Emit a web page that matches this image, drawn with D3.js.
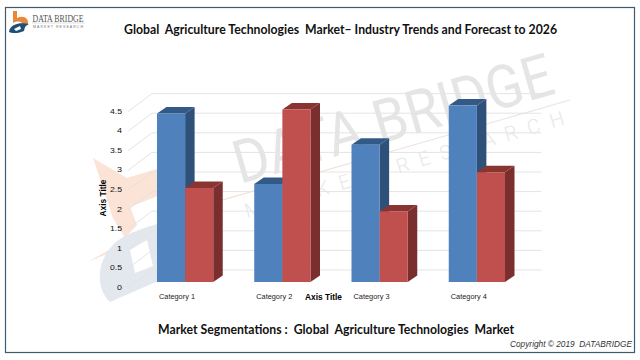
<!DOCTYPE html>
<html>
<head>
<meta charset="utf-8">
<script src="https://cdn.jsdelivr.net/npm/d3@7"></script>
<style>
  html, body { margin: 0; padding: 0; background: #fff; }
  svg { display: block; }
  text { font-family: "Liberation Sans", sans-serif; white-space: pre; }
</style>
</head>
<body>
<svg id="chart" width="640" height="360"></svg>
<script>
// values
const categories = ["Category 1", "Category 2", "Category 3", "Category 4"];
const series1 = [4.3, 2.5, 3.5, 4.5];
const series2 = [2.4, 4.4, 1.8, 2.8];
const yTicks = [0, 0.5, 1, 1.5, 2, 2.5, 3, 3.5, 4, 4.5];
const yTickLabels = ["0", "0.5", "1", "1.5", "2", "2.5", "3", "3.5", "4", "4.5"];

const svg = d3.select("#chart");

// frame
svg.append("rect").attr("x", 5.5).attr("y", 7.5).attr("width", 629).attr("height", 345)
  .attr("fill", "#fff").attr("stroke", "#3f5b6e").attr("stroke-width", 1.2);

// scales, the bars' front plane
const x = d3.scaleBand().domain(categories).range([136.4, 525.6])
  .paddingInner(0.4216).paddingOuter(0.2117);
const xInner = d3.scaleBand().domain([0, 1]).range([0, x.bandwidth()]);
const y = d3.scaleLinear().domain([0, 4.5]).range([282, 105.6]);

// 3d offsets
const depthX = 9.5, depthY = -6.5;   // bar depth
const backY = -12;                   // bar plane -> back wall
const wallX = 24;                    // back wall -> front edge of side wall

// watermark
const defs = svg.append("defs");
const grad = defs.append("linearGradient").attr("id", "wmLine")
  .attr("gradientUnits", "userSpaceOnUse")
  .attr("x1", 170).attr("y1", 215).attr("x2", 570).attr("y2", 100);
grad.append("stop").attr("offset", "0%").attr("stop-color", "#f8dccb");
grad.append("stop").attr("offset", "100%").attr("stop-color", "#e6e6ea");

const wm = svg.append("g");
// orange mark
wm.append("path")
  .attr("d", "M93,158 L127,178 L160,168 L160,195 L130,207 L137,225 L125,238 L113,218 Z")
  .attr("fill", "#fbe3d5");
wm.append("path")
  .attr("d", "M88,262 C110,248 135,238 165,228 L165,233 C135,243 110,252 88,262 Z")
  .attr("fill", "#fbe3d5");
// blue mark
wm.append("path")
  .attr("d", "M110,302 C92,285 98,250 125,236 C135,231 148,226 165,222 L165,278 Z")
  .attr("fill", "#e3e7ee");
wm.append("path")
  .attr("d", "M130,250 L147,240 L153,266 L135,273 Z")
  .attr("fill", "#fff");
wm.append("text").attr("transform", "translate(240,184) rotate(-16)")
  .attr("font-size", 60).attr("fill", "#e5e5e5")
  .style("font-family", "Roboto, sans-serif")
  .attr("textLength", 330).attr("lengthAdjust", "spacingAndGlyphs")
  .text("DATA BRIDGE");
wm.append("line").attr("x1", 170).attr("y1", 215).attr("x2", 570).attr("y2", 100)
  .attr("stroke", "url(#wmLine)").attr("stroke-width", 1.2);
wm.append("text").attr("transform", "translate(247,218) rotate(-16.4)")
  .attr("font-size", 20).attr("font-weight", 300).attr("fill", "#e8e8e8")
  .style("font-family", "Roboto, sans-serif")
  .attr("textLength", 332).attr("lengthAdjust", "spacing")
  .text("MARKET RESEARCH");

// gridlines, back wall and side wall
const grid = svg.append("g").attr("stroke", "#e4e4e4").attr("fill", "none");
grid.selectAll(".back").data(yTicks).join("line").attr("class", "back")
  .attr("x1", 152).attr("x2", 541.5)
  .attr("y1", d => y(d) + backY).attr("y2", d => y(d) + backY);
grid.selectAll(".side").data(yTicks).join("line").attr("class", "side")
  .attr("x1", 152 - wallX).attr("x2", 152)
  .attr("y1", d => y(d) + backY + 18).attr("y2", d => y(d) + backY);

// bars, back to front
const colors = [
  { front: "#4f81bd", side: "#2f5079", top: "#335a87" },
  { front: "#c0504d", side: "#7a2e2e", top: "#8a3432" }
];
const bars = [];
categories.forEach((c, i) => {
  bars.push({ c: c, s: 0, v: series1[i] });
  bars.push({ c: c, s: 1, v: series2[i] });
});
const barWidth = xInner.bandwidth();
const bar = svg.append("g").selectAll("g").data(bars).join("g");
bar.append("path").attr("fill", d => colors[d.s].side).attr("d", d => {
  const x1 = x(d.c) + xInner(d.s) + barWidth;
  return d3.line()([[x1, y(0)], [x1 + depthX, y(0) + depthY], [x1 + depthX, y(d.v) + depthY], [x1, y(d.v)]]) + "Z";
});
bar.append("path").attr("fill", d => colors[d.s].top).attr("d", d => {
  const x0 = x(d.c) + xInner(d.s);
  return d3.line()([[x0, y(d.v)], [x0 + depthX, y(d.v) + depthY], [x0 + barWidth + depthX, y(d.v) + depthY], [x0 + barWidth, y(d.v)]]) + "Z";
});
bar.append("rect").attr("fill", d => colors[d.s].front)
  .attr("x", d => x(d.c) + xInner(d.s)).attr("width", barWidth)
  .attr("y", d => y(d.v)).attr("height", d => y(0) - y(d.v));

// tick labels
svg.append("g").selectAll("text").data(yTicks).join("text")
  .attr("x", 122).attr("y", d => y(d) + 8)
  .attr("text-anchor", "end").attr("font-size", 7.5).attr("fill", "#111")
  .attr("textLength", (d, i) => yTickLabels[i].length > 1 ? 12 : 5)
  .attr("lengthAdjust", "spacingAndGlyphs")
  .text((d, i) => yTickLabels[i]);
svg.append("g").selectAll("text").data(categories).join("text")
  .attr("x", d => x(d) + 2).attr("y", 299)
  .attr("font-size", 6.5).attr("fill", "#222")
  .attr("textLength", 36).attr("lengthAdjust", "spacingAndGlyphs")
  .text(d => d);

// axis titles
svg.append("text").attr("transform", "translate(106,198) rotate(-90)")
  .attr("text-anchor", "middle").attr("font-size", 8.5).attr("font-weight", "bold")
  .attr("textLength", 37).attr("lengthAdjust", "spacingAndGlyphs")
  .text("Axis Title");
svg.append("text").attr("x", 323.5).attr("y", 300)
  .attr("text-anchor", "middle").attr("font-size", 8.5).attr("font-weight", "bold")
  .attr("textLength", 37).attr("lengthAdjust", "spacingAndGlyphs")
  .text("Axis Title");

// titles
svg.append("text").attr("x", 340.5).attr("y", 34).attr("text-anchor", "middle")
  .attr("font-size", 13.5).attr("font-weight", "bold").attr("fill", "#111")
  .style("font-family", "Lato, sans-serif")
  .attr("textLength", 433).attr("lengthAdjust", "spacingAndGlyphs")
  .text("Global  Agriculture Technologies  Market– Industry Trends and Forecast to 2026");
svg.append("text").attr("x", 336).attr("y", 334).attr("text-anchor", "middle")
  .attr("font-size", 13.5).attr("font-weight", "bold").attr("fill", "#111")
  .style("font-family", "Lato, sans-serif")
  .attr("textLength", 356).attr("lengthAdjust", "spacingAndGlyphs")
  .text("Market Segmentations :  Global  Agriculture Technologies  Market");
svg.append("text").attr("x", 632).attr("y", 347).attr("text-anchor", "end")
  .attr("font-size", 8.5).attr("font-style", "italic").attr("fill", "#333")
  .attr("textLength", 122).attr("lengthAdjust", "spacingAndGlyphs")
  .text("Copyright © 2019  DATABRIDGE");

// logo
const logo = svg.append("g");
logo.append("path").attr("d", "M13,11 L17,11 L17,18 C23,15 29,18 28,24 L22,24 C22,21 17,21 13,23 Z").attr("fill", "#e8883a");
logo.append("path").attr("d", "M9,32 C10,24 20,22 29,24 C25,26 25,27 24,31 C20,33 13,34 9,32 Z").attr("fill", "#1f4e79");
logo.append("path").attr("d", "M14,29 L20,26 L21,29 L16,31 Z").attr("fill", "#fff");
logo.append("text").attr("x", 32.5).attr("y", 22).attr("font-size", 10.5).attr("fill", "#555")
  .style("font-family", "'Liberation Serif', serif")
  .attr("textLength", 51).attr("lengthAdjust", "spacingAndGlyphs").text("DATA BRIDGE");
logo.append("line").attr("x1", 32).attr("x2", 85).attr("y1", 23).attr("y2", 23).attr("stroke", "#ccc").attr("stroke-width", 0.6);
logo.append("text").attr("x", 33).attr("y", 27.5).attr("font-size", 3.5).attr("fill", "#777")
  .attr("textLength", 50).text("MARKET RESEARCH");
</script>
</body>
</html>
